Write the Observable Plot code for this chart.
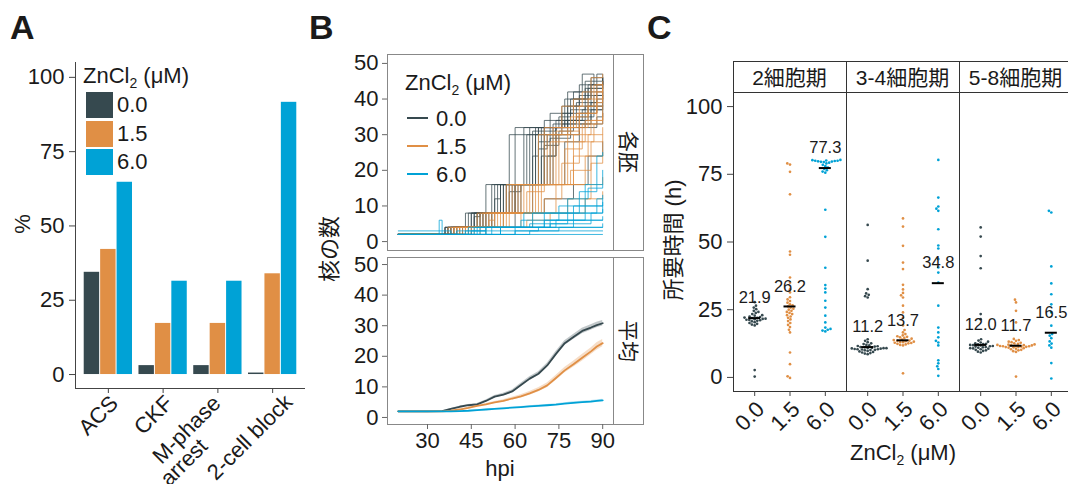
<!DOCTYPE html>
<html><head><meta charset="utf-8">
<script src="https://cdn.jsdelivr.net/npm/d3@7"></script>
<script src="https://cdn.jsdelivr.net/npm/@observablehq/plot@0.6"></script>
<style>
body{margin:0;background:#fff;}
#root{position:relative;width:1068px;height:484px;overflow:hidden;background:#fff;}
#root > svg{position:absolute;}
</style></head>
<body><div id="root"></div>
<script>
// ---------- data ----------
const doses = ["0.0", "1.5", "6.0"];
const doseColors = ["#36494f", "#e08f45", "#00a2d6"];

// Panel A
const catsA = ["ACS", "CKF", "M-phase\narrest", "2-cell block"];
const pctA00 = [34.4, 3.0, 3.0, 0.5];
const pctA15 = [42.1, 17.2, 17.2, 33.9];
const pctA60 = [64.7, 31.4, 31.4, 91.6];

// Panel B (top): individual embryos, "hpi:nuclei" breakpoints
const trajB00 = [
 "20:2 36:4 45:8 53:16 66:24 68:32 76:36 80:42 84:45 88:47 90:44",
 "20:2 37:4 46:8 54:16 64:30 70:32 78:38 82:41 86:44 90:46",
 "20:2 38:4 47:8 55:16 67:32 75:35 79:40 85:43 90:45",
 "20:2 36:4 44:8 52:16 60:32 72:36 78:42 83:47 87:44 90:42",
 "22:2 39:4 48:8 57:16 68:28 72:32 80:38 86:41 90:43",
 "20:2 40:4 50:8 58:14 62:16 70:30 74:32 82:36 88:40 90:41",
 "20:2 38:4 46:7 48:8 56:16 65:32 76:38 82:44 90:46",
 "24:2 41:4 52:8 60:16 71:24 74:32 84:38 90:40",
 "20:2 37:4 45:8 53:12 55:16 63:32 70:34 80:40 86:46 90:44",
 "20:2 42:4 53:8 62:16 73:30 78:34 85:38 90:39",
 "20:2 39:4 49:8 58:16 69:32 77:34 83:37 90:38",
 "20:2 43:4 56:8 66:16 77:28 82:32 88:35 90:36",
 "20:2 36:4 43:8 50:16 58:30 68:32 77:40 84:43 90:45",
 "22:2 45:4 60:8 70:12 80:16 85:24 90:28",
 "20:2 38:4 47:8 56:16 67:30 73:33 79:37 84:42 90:40",
 "20:2 40:4 49:8 59:16 70:32 78:36 85:44 90:43",
 "20:2 37:4 46:8 55:16 66:31 74:34 81:39 88:45 90:44",
 "20:2 41:4 51:8 61:16 72:29 79:33 86:37 90:38",
 "20:2 39:4 48:8 57:16 68:26 71:30 76:33 81:35 87:41 90:42",
 "20:2 42:4 52:8 60:16 70:27 75:31 80:34 86:39 90:41",
 "20:2 40:4 50:8 60:16 69:24 74:30 82:33 90:37"
];
const trajB15 = [
 "20:2 38:4 47:8 58:16 70:32 80:40 86:46 90:47",
 "20:2 40:4 50:8 60:16 72:28 78:32 85:40 90:43",
 "20:2 41:4 53:8 63:16 75:30 82:36 88:44 90:45",
 "20:2 43:4 55:8 66:16 78:28 84:34 90:38",
 "20:2 39:4 51:6 53:8 64:14 70:16 80:30 86:34 90:36",
 "20:2 42:4 56:8 68:16 80:24 85:30 90:32",
 "20:2 45:4 58:8 70:12 76:16 84:24 90:28",
 "20:2 37:4 48:8 57:16 68:30 76:38 83:42 90:44",
 "20:2 46:4 62:8 74:16 86:22 90:24",
 "20:2 44:4 57:8 69:16 79:20 86:28 90:30",
 "20:2 50:4 66:8 78:12 86:16 90:18",
 "20:2 41:4 52:8 61:16 73:32 81:36 88:42 90:40",
 "20:2 48:4 64:6 72:8 84:12 90:14",
 "20:2 40:4 51:8 62:16 74:31 82:38 87:44 90:42",
 "20:2 43:4 54:8 65:16 77:26 83:33 88:39 90:40",
 "20:2 39:4 49:8 59:16 71:30 79:35 85:38 90:41",
 "20:2 44:4 56:8 67:16 76:22 82:28 87:33 90:35"
];
const trajB60 = [
 "20:2 34:6 35:2 45:3 55:4 70:6 80:8 90:10",
 "20:2 40:3 50:4 65:5 78:8 88:12 90:13",
 "20:2 48:4 62:6 75:10 84:16 90:20",
 "20:2 90:2",
 "20:3 38:2 60:4 80:4 90:5",
 "20:2 52:4 70:8 82:14 88:24 90:25",
 "20:2 44:4 58:4 72:6 86:8 90:9",
 "20:2 30:2 55:3 68:4 80:6 90:7",
 "22:2 46:4 66:8 78:12 85:15 90:16",
 "20:2 60:3 75:4 90:4",
 "20:2 50:4 74:6 84:10 90:12",
 "20:2 43:3 50:2 65:3 90:3",
 "20:2 47:4 63:8 80:10 90:11",
 "20:2 55:4 72:5 86:6 90:6"
];

// Panel B (bottom): means and standard errors
const hpiB = [20, 25, 30, 35, 38, 41, 44, 47, 50, 53, 56, 59, 62, 65, 68, 71, 74, 77, 80, 83, 86, 88, 90];
const meanB00 = [2, 2, 2, 2.1, 2.8, 3.5, 4.0, 4.3, 5.4, 6.8, 7.5, 8.5, 10.6, 12.7, 14.3, 17.0, 20.8, 24.3, 26.3, 28.3, 29.4, 30.2, 30.8];
const meanB15 = [2, 2, 2, 2.0, 2.2, 2.6, 3.1, 3.8, 4.3, 4.9, 5.4, 6.2, 6.9, 7.9, 9.0, 10.5, 12.9, 15.4, 17.4, 19.5, 21.6, 23.2, 24.3];
const meanB60 = [2, 2, 2, 2.0, 2.0, 2.1, 2.2, 2.4, 2.6, 2.8, 3.0, 3.2, 3.4, 3.6, 3.8, 4.0, 4.2, 4.5, 4.8, 5.0, 5.2, 5.4, 5.6];
const seB00 = [0, 0, 0, 0.05, 0.15, 0.2, 0.25, 0.3, 0.35, 0.4, 0.45, 0.5, 0.55, 0.6, 0.65, 0.7, 0.75, 0.8, 0.85, 0.9, 0.9, 0.9, 0.9];
const seB15 = [0, 0, 0, 0.05, 0.1, 0.15, 0.2, 0.25, 0.3, 0.35, 0.4, 0.45, 0.5, 0.6, 0.7, 0.8, 0.85, 0.9, 1.0, 1.1, 1.1, 1.2, 1.2];
const seB60 = [0, 0, 0, 0.02, 0.05, 0.05, 0.08, 0.1, 0.12, 0.14, 0.16, 0.18, 0.2, 0.22, 0.24, 0.26, 0.28, 0.3, 0.3, 0.32, 0.33, 0.34, 0.35];

// Panel C
const stagesC = ["2細胞期", "3-4細胞期", "5-8細胞期"];
const c2_00 = [27.8, 26.5, 25.8, 25.2, 24.6, 24.2, 23.8, 23.4, 23.0, 22.8, 22.5, 22.3, 22.1, 21.9, 21.7, 21.5, 21.3, 21.1, 20.9, 20.7, 20.4, 20.1, 19.8, 19.5, 19.2, 22.0, 21.6, 21.2, 2.7, 0.3];
const c2_15 = [79.0, 78.6, 75.9, 67.6, 46.5, 45.3, 36.9, 35.0, 32.6, 31.4, 29.6, 28.8, 28.2, 27.6, 27.0, 26.6, 26.2, 25.8, 25.4, 25.0, 24.6, 24.2, 23.8, 23.4, 23.0, 22.5, 22.0, 21.4, 20.8, 20.1, 19.4, 18.6, 17.6, 16.6, 9.2, 4.9, 0.4, -0.2];
const c2_60 = [80.3, 80.2, 80.1, 80.0, 80.0, 79.9, 79.8, 79.7, 79.6, 79.5, 79.3, 79.0, 78.5, 78.0, 77.5, 77.0, 76.5, 76.0, 75.6, 61.9, 51.9, 40.5, 34.1, 32.8, 31.4, 28.3, 25.8, 22.8, 20.3, 18.4, 17.9, 17.6, 17.3, 17.0];
const c34_00 = [56.3, 43.1, 32.6, 31.0, 30.5, 30.0, 29.5, 14.1, 13.5, 13.0, 12.6, 12.3, 12.0, 11.8, 11.6, 11.4, 11.2, 11.0, 10.9, 10.8, 10.7, 10.6, 10.5, 10.4, 10.3, 10.2, 10.1, 10.0, 9.8, 9.6, 9.4, 9.2, 9.0, 8.8, 8.6, 11.5, 11.1, 10.8, 10.4];
const c34_15 = [58.7, 55.7, 48.6, 42.4, 40.0, 34.2, 32.5, 31.2, 30.3, 29.5, 26.5, 24.0, 22.0, 19.2, 17.5, 16.6, 16.0, 15.5, 15.0, 14.6, 14.3, 14.0, 13.8, 13.6, 13.4, 13.2, 13.0, 12.8, 12.6, 12.4, 12.2, 12.0, 11.8, 13.5, 13.1, 12.7, 14.8, 15.2, 1.5];
const c34_60 = [80.3, 66.4, 63.1, 62.3, 61.5, 54.7, 48.7, 47.6, 43.7, 40.6, 38.7, 35.0, 26.5, 18.4, 16.6, 14.8, 13.5, 12.9, 11.8, 6.3, 5.2, 4.1, 3.1, 0.6];
const c58_00 = [55.4, 52.0, 44.8, 40.3, 23.4, 21.5, 14.1, 13.6, 13.2, 12.9, 12.6, 12.4, 12.2, 12.0, 11.8, 11.6, 11.4, 11.2, 11.0, 10.8, 10.6, 10.4, 10.2, 10.0, 9.8, 9.5, 9.2, 12.3, 11.9, 11.5, 11.1, 10.7];
const c58_15 = [28.7, 27.7, 24.6, 20.3, 14.2, 13.8, 13.5, 13.2, 13.0, 12.8, 12.6, 12.4, 12.2, 12.0, 11.9, 11.8, 11.7, 11.6, 11.5, 11.4, 11.3, 11.2, 11.1, 11.0, 10.8, 10.6, 10.4, 10.2, 10.0, 9.7, 9.4, 12.1, 11.8, 11.5, 11.2, 0.3];
const c58_60 = [61.5, 60.9, 41.0, 34.7, 30.7, 27.0, 24.0, 19.1, 16.0, 15.4, 14.5, 13.3, 12.5, 11.8, 11.0, 5.3, -0.4];
const meansC = [21.9, 26.2, 77.3, 11.2, 13.7, 34.8, 12.0, 11.7, 16.5];

// ---------- helpers ----------
const FONT = '"Liberation Sans", Arial, "Noto Sans CJK JP", sans-serif';
const baseStyle = {fontFamily: FONT, fontSize: "22px", color: "#1a1a1a", background: "transparent", overflow: "visible"};
const root = document.getElementById("root");
function place(el, left, top) { el.style.position = "absolute"; el.style.left = left + "px"; el.style.top = top + "px"; el.style.maxWidth = "none"; root.appendChild(el); }
// one rotated label (top-right corner hung at the tick), with a pixel nudge
function rotLabel(i, s, dx, dy) {
  return Plot.text([i], {x: d => d, text: () => s, frameAnchor: "bottom", rotate: -45, textAnchor: "end", lineAnchor: "top", dx, dy, fill: "#1a1a1a"});
}
const noLabel = () => "";

// ---------- Panel A ----------
const pctA = [pctA00, pctA15, pctA60];
const rowsA = [];
pctA.forEach((arr, di) => arr.forEach((v, ci) => rowsA.push({ci, di, dose: doses[di], v})));
const labelMarksA = [
  rotLabel(0, catsA[0], 0, 5),
  rotLabel(1, catsA[1], 0, 5),
  rotLabel(2, catsA[2].split("\n")[0], -7, 5),
  rotLabel(2, catsA[2].split("\n")[1], -20, 48),
  rotLabel(3, catsA[3], 10, 4)
];
const plotA = Plot.plot({
  width: 320, height: 484,
  marginLeft: 75, marginRight: 15, marginTop: 62, marginBottom: 96,
  style: baseStyle,
  x: {domain: [-0.6, 3.6], axis: null},
  y: {domain: [-4.7, 105], axis: null},
  color: {domain: doses, range: doseColors},
  marks: [
    Plot.rect(rowsA, {x1: d => d.ci + (d.di - 1.5) * 0.3, x2: d => d.ci + (d.di - 0.5) * 0.3, y1: 0, y2: "v", fill: "dose", insetLeft: 0.5, insetRight: 0.5}),
    Plot.axisY({ticks: [0, 25, 50, 75, 100], tickSize: 6, tickPadding: 5, label: null, stroke: "#444"}),
    Plot.axisX({ticks: [0, 1, 2, 3], tickFormat: noLabel, tickSize: 5, label: null, stroke: "#444"}),
    ...labelMarksA,
    Plot.ruleX([-0.6], {stroke: "#444"}),
    Plot.ruleY([-4.7], {stroke: "#444"})
  ]
});
place(plotA, 0, 0);

// ---------- Panel B ----------
const trajRows = [];
[trajB00, trajB15, trajB60].forEach((list, di) => list.forEach((s, k) => {
  s.split(" ").forEach(p => { const [t, n] = p.split(":").map(Number); trajRows.push({id: di + "-" + k, dose: doses[di], t, n}); });
}));
const xDomB = [16.3, 93.7];
const plotBtop = Plot.plot({
  width: 343, height: 254,
  marginLeft: 87, marginRight: 30, marginTop: 54, marginBottom: 4,
  style: baseStyle,
  x: {domain: xDomB, axis: null},
  y: {domain: [-2.5, 52.5], axis: null},
  color: {domain: doses, range: doseColors},
  marks: [
    Plot.frame({stroke: "#888"}),
    Plot.line(trajRows, {x: "t", y: "n", z: "id", stroke: "dose", curve: "step-after", strokeWidth: 0.9, strokeOpacity: 0.85}),
    Plot.axisY({ticks: [0, 10, 20, 30, 40, 50], tickSize: 5, tickPadding: 4, label: null, stroke: "#666"})
  ]
});
place(plotBtop, 300, 0);

const meanRows = [];
[meanB00, meanB15, meanB60].forEach((arr, di) => {
  const se = [seB00, seB15, seB60][di];
  arr.forEach((m, i) => meanRows.push({dose: doses[di], t: hpiB[i], m, lo: m - se[i], hi: m + se[i]}));
});
const plotBbot = Plot.plot({
  width: 343, height: 230,
  marginLeft: 87, marginRight: 30, marginTop: 3, marginBottom: 60,
  style: baseStyle,
  x: {domain: xDomB, axis: null},
  y: {domain: [-2.3, 52.3], axis: null},
  color: {domain: doses, range: doseColors},
  marks: [
    Plot.frame({stroke: "#888"}),
    Plot.areaY(meanRows, {x: "t", y1: "lo", y2: "hi", z: "dose", fill: "dose", fillOpacity: 0.3}),
    Plot.lineY(meanRows, {x: "t", y: "m", z: "dose", stroke: "dose", strokeWidth: 1.8}),
    Plot.axisY({ticks: [0, 10, 20, 30, 40, 50], tickSize: 5, tickPadding: 4, label: null, stroke: "#666"}),
    Plot.axisX({ticks: [30, 45, 60, 75, 90], tickSize: 5, tickPadding: 3, label: null, stroke: "#666"})
  ]
});
place(plotBbot, 300, 254);

// ---------- Panel C ----------
const valsC = [[c2_00, c2_15, c2_60], [c34_00, c34_15, c34_60], [c58_00, c58_15, c58_60]];
const kx = 339 / 3 / 3.2, ky = 299 / 110.4, dmin = 2.9;
function swarm(vals) {
  const idx = vals.map((v, i) => i).sort((a, b) => vals[a] - vals[b]);
  const placed = [], out = new Array(vals.length);
  for (const i of idx) {
    const y = vals[i] * ky, forb = [];
    for (const p of placed) { const dy = Math.abs(p.y - y); if (dy < dmin) { const w = Math.sqrt(dmin * dmin - dy * dy); forb.push([p.x - w, p.x + w]); } }
    const cands = [0]; forb.forEach(([a, b]) => cands.push(a, b));
    cands.sort((a, b) => Math.abs(a) - Math.abs(b));
    let xx = 0;
    for (const c of cands) { if (forb.every(([a, b]) => c <= a + 1e-6 || c >= b - 1e-6)) { xx = c; break; } }
    placed.push({x: xx, y}); out[i] = xx / kx;
  }
  return out;
}
const rowsC = [], meanRowsC = [];
valsC.forEach((group, si) => group.forEach((vals, di) => {
  const off = swarm(vals);
  vals.forEach((v, k) => rowsC.push({stage: stagesC[si], dose: doses[di], x: di + off[k], v}));
  meanRowsC.push({stage: stagesC[si], di, m: meansC[si * 3 + di]});
}));
const plotC = Plot.plot({
  width: 440, height: 393,
  marginLeft: 93, marginRight: 8, marginTop: 1, marginBottom: 93,
  style: baseStyle,
  fx: {domain: stagesC, padding: 0, axis: null},
  x: {domain: [-0.6, 2.6], axis: null},
  y: {domain: [-5.2, 105.2], axis: null},
  color: {domain: doses, range: doseColors},
  marks: [
    Plot.frame({stroke: "#333"}),
    Plot.dot(rowsC, {fx: "stage", x: "x", y: "v", fill: "dose", r: 1.35}),
    Plot.ruleY(meanRowsC, {fx: "stage", y: "m", x1: d => d.di - 0.17, x2: d => d.di + 0.17, stroke: "#000", strokeWidth: 2}),
    Plot.text(meanRowsC, {fx: "stage", x: "di", y: "m", text: d => d.m.toFixed(1), dy: -20, fontSize: 16.5, fill: "#1a1a1a"}),
    Plot.axisY({ticks: [0, 25, 50, 75, 100], tickSize: 6, tickPadding: 5, label: null, stroke: "#444"}),
    Plot.axisX({ticks: [0, 1, 2], tickFormat: noLabel, tickSize: 5, label: null, stroke: "#444"}),
    ...doses.map((s, i) => rotLabel(i, s, 0, 8))
  ]
});
place(plotC, 640, 91);

// ---------- overlay: panel letters, titles, legends, strips ----------
const ov = d3.select(root).append("svg").attr("width", 1068).attr("height", 484)
  .style("position", "absolute").style("left", "0px").style("top", "0px")
  .style("font-family", FONT).style("pointer-events", "none");
function txt(x, y, s, o = {}) {
  const t = ov.append("text").attr("x", x).attr("y", y).attr("fill", o.fill || "#1a1a1a")
    .attr("font-size", o.size || 22).attr("text-anchor", o.anchor || "start");
  if (o.weight) t.attr("font-weight", o.weight);
  if (o.rotate) t.attr("transform", `rotate(${o.rotate},${x},${y})`);
  if (o.baseline) t.attr("dominant-baseline", o.baseline);
  if (s) t.text(s);
  return t;
}
function zncl(t) {
  t.append("tspan").text("ZnCl");
  t.append("tspan").attr("font-size", 14).attr("dy", 5).text("2");
  t.append("tspan").attr("dy", -5).text(" (μM)");
}
// letters
txt(10, 39, "A", {size: 34, weight: "bold"});
txt(309, 39, "B", {size: 34, weight: "bold"});
txt(647, 39, "C", {size: 34, weight: "bold"});
// Panel A title + legend
txt(22, 224, "%", {anchor: "middle", baseline: "central", rotate: -90});
zncl(txt(83, 83, ""));
[92, 121, 149].forEach((y, i) => {
  ov.append("rect").attr("x", 86).attr("y", y).attr("width", 27).attr("height", 26).attr("fill", doseColors[i]);
  txt(117, y + 20, doses[i]);
});
// Panel B
txt(329, 249, "核の数", {anchor: "middle", baseline: "central", rotate: -90});
txt(500, 476, "hpi", {anchor: "middle"});
zncl(txt(405, 90, ""));
[118, 146, 174].forEach((y, i) => {
  ov.append("line").attr("x1", 407).attr("x2", 428).attr("y1", y).attr("y2", y).attr("stroke", doseColors[i]).attr("stroke-width", 2);
  txt(436, y + 8, doses[i]);
});
ov.append("rect").attr("x", 613.5).attr("y", 54.5).attr("width", 30).attr("height", 196).attr("fill", "none").attr("stroke", "#888");
ov.append("rect").attr("x", 613.5).attr("y", 257.5).attr("width", 30).attr("height", 167).attr("fill", "none").attr("stroke", "#888");
txt(628, 152, "各胚", {anchor: "middle", baseline: "central", rotate: 90, size: 21});
txt(628, 341, "平均", {anchor: "middle", baseline: "central", rotate: 90, size: 21});
// Panel C
[733, 846, 959].forEach((x, i) => {
  ov.append("rect").attr("x", x + 0.5).attr("y", 61.5).attr("width", 113).attr("height", 31).attr("fill", "none").attr("stroke", "#333");
  txt(x + 56.5, 77, stagesC[i], {anchor: "middle", baseline: "central", size: 21});
});
txt(673, 240, "所要時間 (h)", {anchor: "middle", baseline: "central", rotate: -90});
zncl(txt(903, 460, "", {anchor: "middle"}));
</script>
</body></html>
